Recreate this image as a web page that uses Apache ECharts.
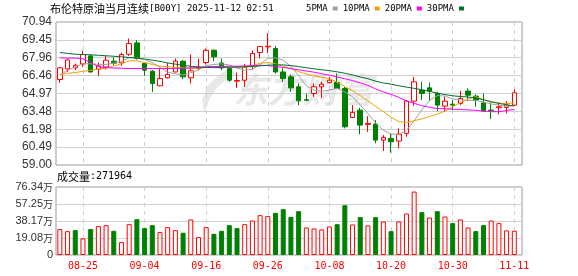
<!DOCTYPE html>
<html>
<head>
<meta charset="utf-8">
<script src="https://cdn.jsdelivr.net/npm/echarts@6/dist/echarts.min.js"></script>
<style>
  html, body { margin: 0; padding: 0; background: #fff; }
  #chart { width: 578px; height: 276px; }
</style>
</head>
<body>
<div id="chart"></div>
<script>
// Trading days shown in the window
const dates = [
  '08-20','08-21','08-22','08-25','08-26','08-27','08-28','08-29','09-01','09-02',
  '09-03','09-04','09-05','09-08','09-09','09-10','09-11','09-12','09-15','09-16',
  '09-17','09-18','09-19','09-22','09-23','09-24','09-25','09-26','09-29','09-30',
  '10-01','10-02','10-03','10-06','10-07','10-08','10-09','10-10','10-13','10-14',
  '10-15','10-16','10-17','10-20','10-21','10-22','10-23','10-24','10-27','10-28',
  '10-29','10-30','10-31','11-03','11-04','11-05','11-06','11-07','11-10','11-11'
];

// Daily prices (USD/bbl)
const open = [
  66.14,67.02,67.11,67.44,68.11,66.99,67.19,67.67,67.52,68.25,
  69.19,67.47,66.83,65.61,66.28,66.77,67.67,66.28,67.06,67.56,
  68.58,67.52,67.06,66.00,66.08,67.27,68.39,68.86,68.72,66.77,
  66.36,65.53,64.45,64.97,65.53,65.89,65.89,65.39,62.97,63.58,
  62.39,62.42,61.08,61.22,61.00,61.64,64.33,65.25,65.44,64.97,
  63.92,64.08,64.14,65.17,64.75,64.19,63.58,63.78,63.81,64.00
];
const close = [
  67.11,67.77,67.33,68.22,66.77,67.27,67.75,67.50,68.22,69.14,
  67.90,66.92,65.81,66.22,66.56,67.67,66.36,66.86,67.19,68.58,
  68.03,67.11,66.08,66.05,67.19,68.31,68.89,68.92,66.77,66.22,
  65.44,64.36,64.40,65.53,65.75,66.08,65.39,62.19,63.39,62.33,
  62.47,61.08,61.31,60.94,61.58,64.33,65.94,64.97,65.17,64.00,
  64.33,64.00,64.56,64.83,64.42,63.50,63.53,63.86,64.00,65.03
];
const low = [
  65.86,66.77,66.92,67.19,66.72,66.44,66.97,67.33,67.27,68.11,
  67.80,66.44,65.11,65.58,66.22,66.74,66.17,65.81,66.92,67.39,
  67.67,66.92,65.94,65.44,65.53,66.99,67.89,68.35,66.64,65.94,
  65.11,64.00,64.33,64.69,64.61,65.81,65.33,62.06,62.95,61.56,
  61.77,60.81,60.17,60.03,60.39,61.36,63.94,64.42,64.33,63.50,
  63.44,63.58,64.00,64.33,63.86,63.45,62.83,63.22,63.31,63.94
];
const high = [
  67.19,67.89,67.47,68.56,68.22,67.56,68.11,68.00,68.39,69.56,
  69.42,67.55,66.92,67.11,67.52,67.89,67.75,68.22,67.89,68.72,
  68.67,67.89,67.10,66.72,67.42,68.58,68.95,70.00,68.94,67.11,
  66.56,65.81,64.97,65.81,65.94,66.36,66.64,65.53,64.00,63.78,
  63.08,62.75,61.50,61.64,62.06,64.42,66.36,65.94,65.89,65.11,
  64.69,64.42,65.17,65.39,64.89,64.97,64.22,64.22,64.33,65.33
];

// Daily volume (lots)
const volume = [
  291000,268000,279000,186000,291000,324000,335000,272000,145000,346000,
  402000,302000,335000,257000,313000,279000,250000,399000,201000,313000,
  238000,272000,335000,302000,346000,387000,447000,436000,473000,514000,
  428000,492000,309000,298000,287000,320000,346000,559000,343000,425000,
  332000,425000,376000,268000,376000,466000,712000,481000,421000,492000,
  432000,358000,399000,309000,268000,335000,387000,358000,276000,271964
];

// Moving averages of the close
const ma5 = [
  66.50,66.90,67.20,67.45,67.45,67.40,67.40,67.50,67.65,67.95,
  67.95,67.80,67.55,67.15,66.75,66.62,66.52,66.70,66.95,67.30,
  67.40,67.45,67.35,67.10,66.90,67.00,67.40,67.90,67.95,67.75,
  67.25,66.45,65.60,65.25,65.15,65.25,65.40,65.10,64.70,64.00,
  63.30,62.50,61.90,61.60,61.55,61.90,62.70,63.60,64.40,64.80,
  64.75,64.50,64.45,64.40,64.40,64.25,64.10,64.00,63.90,63.95
];
const ma10 = [
  66.56,66.65,66.72,66.82,66.90,67.00,67.10,67.27,67.45,67.70,
  67.70,67.55,67.40,67.25,67.20,67.15,67.10,67.06,67.10,67.15,
  67.20,67.20,67.20,67.18,67.15,67.30,67.50,67.55,67.45,67.25,
  67.05,66.80,66.60,66.45,66.32,66.22,65.90,65.55,65.20,64.80,
  64.35,63.90,63.45,63.00,62.62,62.55,62.70,62.85,63.05,63.25,
  63.50,63.85,64.20,64.50,64.70,64.45,64.28,64.18,64.12,64.20
];
const ma20 = [
  67.94,67.93,67.92,67.88,67.55,67.20,67.12,67.10,67.08,67.06,
  67.06,67.06,67.06,67.06,67.06,67.06,67.08,67.10,67.15,67.20,
  67.22,67.24,67.25,67.25,67.27,67.30,67.33,67.30,67.22,67.15,
  67.05,66.95,66.85,66.75,66.62,66.50,66.35,66.20,66.05,65.85,
  65.65,65.35,65.10,64.90,64.65,64.35,64.15,63.95,63.82,63.72,
  63.70,63.66,63.63,63.60,63.57,63.50,63.45,63.45,63.55,63.65
];
const ma30 = [
  68.39,68.32,68.25,68.22,68.20,68.16,68.12,68.08,68.03,67.98,
  67.92,67.85,67.76,67.65,67.52,67.42,67.32,67.24,67.18,67.14,
  67.13,67.14,67.16,67.17,67.19,67.22,67.28,67.33,67.36,67.36,
  67.30,67.22,67.12,67.03,66.95,66.88,66.78,66.66,66.52,66.35,
  66.20,66.00,65.85,65.75,65.62,65.50,65.40,65.28,65.15,65.00,
  64.88,64.78,64.72,64.68,64.60,64.45,64.28,64.14,64.03,63.93
];

// Axis tick labels
const priceTicks = ['59.00','60.49','61.98','63.48','64.97','66.46','67.96','69.45','70.94'];
const volumeTicks = ['0','19.08','38.17','57.25','76.34'];
const axisDates = ['08-25','09-04','09-16','09-26','10-08','10-20','10-30','11-11'];

const PRICE_MIN = 59.00, PRICE_MAX = 70.94;
const PRICE_STEP = (PRICE_MAX - PRICE_MIN) / (priceTicks.length - 1);
const VOL_MAX = 763400;
const VOL_STEP = VOL_MAX / (volumeTicks.length - 1);

const UP = '#ff0000', DOWN = '#008000';
const GRID_LINE = '#cfcfcf', FRAME = '#999';
const tickIdx = axisDates.map(d => dates.indexOf(d));
const lastVolume = volume[volume.length - 1];

const chart = echarts.init(document.getElementById('chart'), null, { renderer: 'canvas' });

const dashed = { show: true, lineStyle: { color: GRID_LINE, width: 1, type: [4, 4] } };

function xAxisFor(gridIndex, withLabels) {
  return {
    type: 'value', gridIndex, min: -0.5, max: dates.length,
    axisLine: { show: false },
    axisTick: { show: false, customValues: tickIdx },
    axisLabel: {
      show: withLabels, customValues: tickIdx, margin: 6,
      color: UP, fontFamily: 'DejaVu Sans Mono', fontSize: 10,
      formatter: v => dates[Math.round(v)] || ''
    },
    splitLine: dashed
  };
}

const candleData = dates.map((d, i) => [i, open[i], close[i], low[i], high[i]]);
const volumeData = volume.map((v, i) => {
  const up = i === 0 ? close[i] >= open[i] : close[i] >= close[i - 1];
  return {
    value: [i, v],
    itemStyle: { color: up ? '#fff' : DOWN, borderColor: up ? UP : DOWN, borderWidth: 1 }
  };
});
const maLine = (name, arr, color) => ({
  name, type: 'line', xAxisIndex: 0, yAxisIndex: 0,
  data: arr.map((v, i) => [i, v]), symbol: 'none', silent: true,
  lineStyle: { color, width: 1 }, itemStyle: { color }, z: 3
});

chart.setOption({
  animation: false,
  backgroundColor: '#fff',
  title: [
    {
      left: 50, top: 3, padding: 0,
      text: '{c|布伦特原油当月连续}{l|[B00Y] 2025-11-12 02:51}',
      textStyle: { rich: {
        c: { fontFamily: 'Noto Sans CJK SC', fontSize: 11, fontWeight: 'normal', color: '#000' },
        l: { fontFamily: 'DejaVu Sans Mono', fontSize: 9, fontWeight: 'normal', color: '#000' }
      } }
    },
    {
      left: 57, top: 171, padding: 0,
      text: '{c|成交量}{l|:' + lastVolume + '}',
      textStyle: { rich: {
        c: { fontFamily: 'Noto Sans CJK SC', fontSize: 11, fontWeight: 'normal', color: '#000' },
        l: { fontFamily: 'DejaVu Sans Mono', fontSize: 10, fontWeight: 'normal', color: '#000' }
      } }
    }
  ],
  legend: {
    left: 306, top: 4, padding: 0, align: 'right', icon: 'rect',
    itemWidth: 5, itemHeight: 4, itemGap: 5, selectedMode: false,
    textStyle: { fontFamily: 'DejaVu Sans Mono', fontSize: 9, color: '#000' },
    data: ['5PMA', '10PMA', '20PMA', '30PMA']
  },
  graphic: [
    {
      type: 'polygon', z: -10, silent: true,
      shape: { points: [[231, 68], [218, 75], [207, 87], [202, 100], [204, 113], [209, 100], [217, 88], [226, 80], [235, 74]] },
      style: { fill: '#e8e8e8' }
    },
    {
      type: 'text', z: -10, silent: true, x: 233, y: 90,
      style: {
        text: '东方财富', fill: '#e8e8e8', verticalAlign: 'middle',
        font: 'italic bold 35px "Noto Sans CJK SC"'
      }
    }
  ],
  grid: [
    { left: 56, right: 56, top: 22, height: 143, show: true, borderColor: FRAME, borderWidth: 1, backgroundColor: 'transparent' },
    { left: 56, right: 56, top: 187, height: 68, show: true, borderColor: FRAME, borderWidth: 1, backgroundColor: 'transparent' }
  ],
  xAxis: [xAxisFor(0, false), xAxisFor(1, true)],
  yAxis: [
    {
      type: 'value', gridIndex: 0, min: PRICE_MIN, max: PRICE_MAX, interval: PRICE_STEP,
      axisLine: { show: false }, axisTick: { show: false },
      axisLabel: {
        margin: 4, color: '#333', fontFamily: 'Liberation Sans', fontSize: 12,
        formatter: v => priceTicks[Math.round((v - PRICE_MIN) / PRICE_STEP)]
      },
      splitLine: { show: true, lineStyle: { color: GRID_LINE, width: 1 } }
    },
    {
      type: 'value', gridIndex: 1, min: 0, max: VOL_MAX, interval: VOL_STEP,
      axisLine: { show: false }, axisTick: { show: false },
      axisLabel: {
        margin: 3,
        formatter: v => {
          const t = volumeTicks[Math.round(v / VOL_STEP)];
          return t === '0' ? '{n|0}' : '{n|' + t + '}{w|万}';
        },
        rich: {
          n: { color: '#333', fontFamily: 'Liberation Sans', fontSize: 11 },
          w: { color: '#333', fontFamily: 'Noto Sans CJK SC', fontSize: 10 }
        }
      },
      splitLine: { show: true, lineStyle: { color: GRID_LINE, width: 1 } }
    }
  ],
  series: [
    {
      name: 'K', type: 'candlestick', xAxisIndex: 0, yAxisIndex: 0,
      data: candleData, encode: { x: 0, y: [1, 2, 3, 4] },
      barWidth: 5, silent: true, z: 2,
      itemStyle: { color: '#fff', color0: DOWN, borderColor: UP, borderColor0: DOWN, borderWidth: 1 }
    },
    maLine('5PMA', ma5, '#a0a0a0'),
    maLine('10PMA', ma10, '#f2a104'),
    maLine('20PMA', ma20, '#ff00ff'),
    maLine('30PMA', ma30, '#00702e'),
    {
      name: '成交量', type: 'bar', xAxisIndex: 1, yAxisIndex: 1,
      data: volumeData, barWidth: 5, silent: true
    }
  ]
});
</script>
</body>
</html>
